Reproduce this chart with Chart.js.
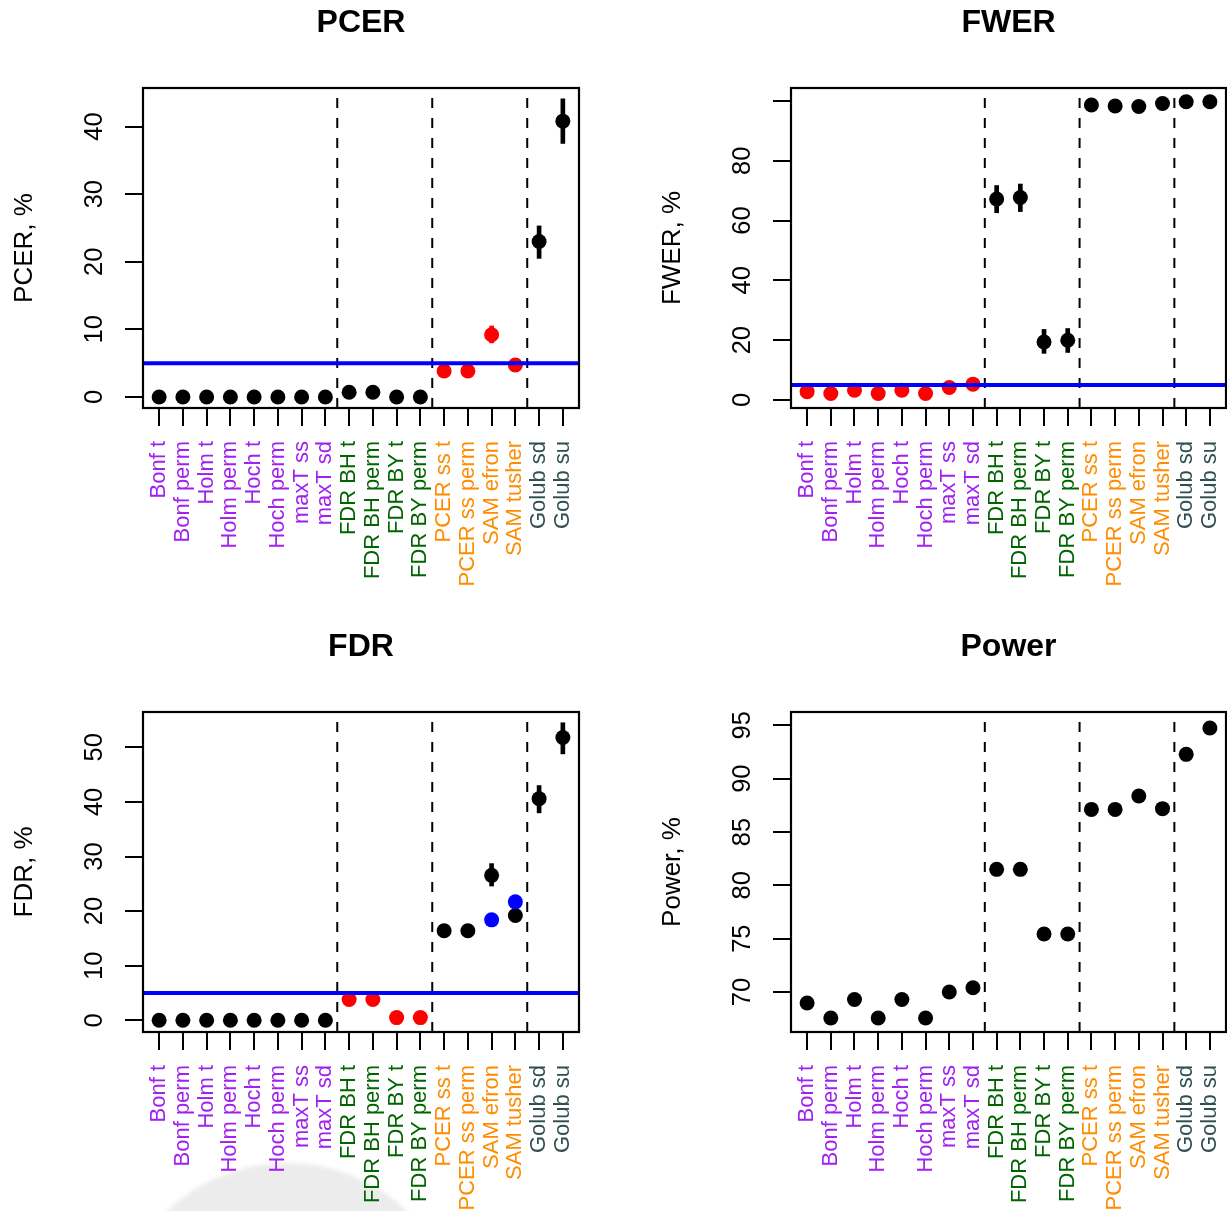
<!DOCTYPE html>
<html>
<head>
<meta charset="utf-8">
<title>Error rates and power by method</title>
<script src="https://cdn.jsdelivr.net/npm/chart.js@4.4.1/dist/chart.umd.min.js"></script>
<style>
  body { margin: 0; background: #fff; }
  #page { position: relative; width: 1227px; height: 1211px; overflow: hidden; background: #fff; }
  #page canvas { position: absolute; left: 0; top: 0; }
  .blob { position: absolute; left: 113px; top: 1163px; width: 348px; height: 348px;
          border-radius: 50%; background: #ececec; filter: blur(2px); }
</style>
</head>
<body>
<div id="page">
  <div class="blob"></div>
  <canvas id="pcerChart" width="1227" height="1211"></canvas>
  <canvas id="fwerChart" width="1227" height="1211"></canvas>
  <canvas id="fdrChart" width="1227" height="1211"></canvas>
  <canvas id="powerChart" width="1227" height="1211"></canvas>
</div>
<script>
var methods = ["Bonf t", "Bonf perm", "Holm t", "Holm perm", "Hoch t", "Hoch perm", "maxT ss", "maxT sd",
               "FDR BH t", "FDR BH perm", "FDR BY t", "FDR BY perm",
               "PCER ss t", "PCER ss perm", "SAM efron", "SAM tusher",
               "Golub sd", "Golub su"];
var methodGroup = ["FWER", "FWER", "FWER", "FWER", "FWER", "FWER", "FWER", "FWER",
                   "FDR", "FDR", "FDR", "FDR",
                   "PCER", "PCER", "PCER", "PCER",
                   "Golub", "Golub"];
var groupColors = { FWER: "#A020F0", FDR: "#006400", PCER: "#FF8C00", Golub: "#2F4F4F" };
var groupBreaks = [8.5, 12.5, 16.5];

var pcerValues = [0, 0, 0, 0, 0, 0, 0, 0, 0.7, 0.7, 0, 0, 3.85, 3.85, 9.2, 4.73, 23.0, 40.8];
var pcerLow    = [null, null, null, null, null, null, null, null, null, null, null, null, null, null, 8.0, null, 20.5, 37.5];
var pcerHigh   = [null, null, null, null, null, null, null, null, null, null, null, null, null, null, 10.5, null, 25.3, 44.1];
var pcerTicks  = [0, 10, 20, 30, 40];
var pcerTickLabels = ["0", "10", "20", "30", "40"];

var fwerValues = [2.8, 2.2, 3.3, 2.2, 3.3, 2.2, 4.2, 5.3, 67.2, 67.7, 19.4, 20.0, 98.6, 98.3, 98.1, 99.1, 99.7, 99.7];
var fwerLow    = [null, null, null, null, null, null, null, null, 62.6, 63.0, 15.6, 15.9, null, null, null, null, null, null];
var fwerHigh   = [null, null, null, null, null, null, null, null, 71.7, 72.2, 23.6, 23.9, null, null, null, null, null, null];
var fwerTicks  = [0, 20, 40, 60, 80, 100];
var fwerTickLabels = ["0", "20", "40", "60", "80", ""];

var fdrValues    = [0, 0, 0, 0, 0, 0, 0, 0, 3.8, 3.8, 0.5, 0.5, 16.4, 16.4, 26.55, 19.2, 40.6, 51.8];
var fdrLow       = [null, null, null, null, null, null, null, null, null, null, null, null, null, null, 24.6, null, 38.0, 48.8];
var fdrHigh      = [null, null, null, null, null, null, null, null, null, null, null, null, null, null, 28.7, null, 43.0, 54.5];
var fdrEstimated = [null, null, null, null, null, null, null, null, null, null, null, null, null, null, 18.4, 21.7, null, null];
var fdrTicks     = [0, 10, 20, 30, 40, 50];
var fdrTickLabels = ["0", "10", "20", "30", "40", "50"];

var powerValues = [68.97, 67.56, 69.3, 67.56, 69.3, 67.56, 70.0, 70.4, 81.5, 81.5, 75.44, 75.44, 87.12, 87.12, 88.37, 87.19, 92.28, 94.75];
var powerTicks  = [70, 75, 80, 85, 90, 95];
var powerTickLabels = ["70", "75", "80", "85", "90", "95"];

var nominalLevel = 5;

var FONT = '"Liberation Sans", Arial, Helvetica, sans-serif';
var PAGE_W = 1227, PAGE_H = 1211;
var X_MIN = 0.32, X_MAX = 18.68;

// box, main title, rotated y labels -- base graphics look
var rFrame = {
    id: 'rFrame',
    afterDraw: function (chart, args, o) {
        var ctx = chart.ctx, a = chart.chartArea, y = chart.scales.y;
        ctx.save();
        ctx.strokeStyle = '#000';
        ctx.lineWidth = 2.2;
        ctx.strokeRect(a.left, a.top, a.right - a.left, a.bottom - a.top);

        ctx.fillStyle = '#000';
        ctx.textAlign = 'center';
        ctx.textBaseline = 'alphabetic';
        ctx.font = 'bold 32px ' + FONT;
        ctx.fillText(o.title, (a.left + a.right) / 2, a.top - 56);

        ctx.font = '25.5px ' + FONT;
        y.ticks.forEach(function (t, i) {
            var lab = o.tickLabels[i];
            if (!lab) return;
            ctx.save();
            ctx.translate(a.left - 41.5, y.getPixelForValue(t.value));
            ctx.rotate(-Math.PI / 2);
            ctx.fillText(lab, 0, 0);
            ctx.restore();
        });

        ctx.font = '26px ' + FONT;
        ctx.save();
        ctx.translate(a.left - 111, (a.top + a.bottom) / 2);
        ctx.rotate(-Math.PI / 2);
        ctx.fillText(o.yTitle, 0, 0);
        ctx.restore();
        ctx.restore();
    }
};

function makePanel(id, p) {
    var xs = methods.map(function (m, i) { return i + 1; });
    var colors = methodGroup.map(function (g) { return g === p.target ? '#FF0000' : '#000000'; });

    // error bars are floating bars, coloured like their point
    var bars = [], barColors = [];
    xs.forEach(function (x, i) {
        if (p.low && p.low[i] != null) {
            bars.push({ x: x, y: [p.low[i], p.high[i]] });
            barColors.push(colors[i]);
        }
    });

    var datasets = [];
    if (p.threshold != null) {
        datasets.push({
            type: 'line',
            data: [{ x: X_MIN, y: p.threshold }, { x: X_MAX, y: p.threshold }],
            borderColor: '#0000FF', borderWidth: 4, pointRadius: 0
        });
    }
    groupBreaks.forEach(function (b) {
        datasets.push({
            type: 'line',
            data: [{ x: b, y: p.yMin }, { x: b, y: p.yMax }],
            borderColor: '#000', borderWidth: 2, borderDash: [10, 10], pointRadius: 0
        });
    });
    if (p.estimated) {
        datasets.push({
            type: 'scatter',
            data: xs.map(function (x, i) { return { x: x, y: p.estimated[i] }; })
                    .filter(function (d) { return d.y != null; }),
            pointRadius: 7.5, pointBorderWidth: 0, pointBackgroundColor: '#0000FF'
        });
    }
    datasets.push({
        type: 'scatter',
        data: xs.map(function (x, i) { return { x: x, y: p.values[i] }; }),
        pointRadius: 7.5, pointBorderWidth: 0, pointBackgroundColor: colors
    });
    if (bars.length) {
        datasets.push({
            type: 'bar',
            data: bars,
            barThickness: 4, grouped: false, borderWidth: 0,
            backgroundColor: barColors
        });
    }

    var box = p.box;
    return new Chart(document.getElementById(id), {
        type: 'scatter',
        data: { datasets: datasets },
        options: {
            responsive: false,
            animation: false,
            events: [],
            layout: {
                autoPadding: false,
                padding: { left: 0, top: box.top, right: PAGE_W - box.right, bottom: 0 }
            },
            plugins: {
                legend: { display: false },
                tooltip: { enabled: false },
                rFrame: { title: p.title, yTitle: p.yTitle, tickLabels: p.tickLabels }
            },
            scales: {
                x: {
                    type: 'linear', min: X_MIN, max: X_MAX, offset: false,
                    afterBuildTicks: function (s) { s.ticks = xs.map(function (v) { return { value: v }; }); },
                    afterFit: function (s) { s.height = PAGE_H - box.bottom; s.paddingLeft = 0; s.paddingRight = 0; },
                    ticks: {
                        autoSkip: false, minRotation: 90, maxRotation: 90, padding: 15,
                        font: { family: FONT, size: 22 },
                        color: function (c) { return groupColors[methodGroup[c.index]]; },
                        callback: function (v, i) { return methods[i]; }
                    },
                    grid: { offset: false, drawOnChartArea: false, drawTicks: true, tickLength: 18, tickColor: '#000', tickWidth: 2, lineWidth: 2, color: '#000' },
                    border: { display: false }
                },
                y: {
                    type: 'linear', min: p.yMin, max: p.yMax, offset: false,
                    afterBuildTicks: function (s) { s.ticks = p.ticks.map(function (v) { return { value: v }; }); },
                    afterFit: function (s) { s.width = box.left; s.paddingTop = 0; s.paddingBottom = 0; },
                    ticks: { display: false },
                    grid: { offset: false, drawOnChartArea: false, drawTicks: true, tickLength: 18, tickColor: '#000', tickWidth: 2, lineWidth: 2, color: '#000' },
                    border: { display: false }
                }
            }
        },
        plugins: [rFrame]
    });
}

makePanel('pcerChart', {
    title: 'PCER', yTitle: 'PCER, %', target: 'PCER', threshold: nominalLevel,
    values: pcerValues, low: pcerLow, high: pcerHigh,
    yMin: -1.63, yMax: 45.7, ticks: pcerTicks, tickLabels: pcerTickLabels,
    box: { left: 143, top: 88, right: 579, bottom: 408 }
});

makePanel('fwerChart', {
    title: 'FWER', yTitle: 'FWER, %', target: 'FWER', threshold: nominalLevel,
    values: fwerValues, low: fwerLow, high: fwerHigh,
    yMin: -2.67, yMax: 104.3, ticks: fwerTicks, tickLabels: fwerTickLabels,
    box: { left: 791, top: 88, right: 1226, bottom: 408 }
});

makePanel('fdrChart', {
    title: 'FDR', yTitle: 'FDR, %', target: 'FDR', threshold: nominalLevel,
    values: fdrValues, low: fdrLow, high: fdrHigh, estimated: fdrEstimated,
    yMin: -2.14, yMax: 56.47, ticks: fdrTicks, tickLabels: fdrTickLabels,
    box: { left: 143, top: 712, right: 579, bottom: 1032 }
});

makePanel('powerChart', {
    title: 'Power', yTitle: 'Power, %', target: null, threshold: null,
    values: powerValues,
    yMin: 66.25, yMax: 96.25, ticks: powerTicks, tickLabels: powerTickLabels,
    box: { left: 791, top: 712, right: 1226, bottom: 1032 }
});
</script>
</body>
</html>
